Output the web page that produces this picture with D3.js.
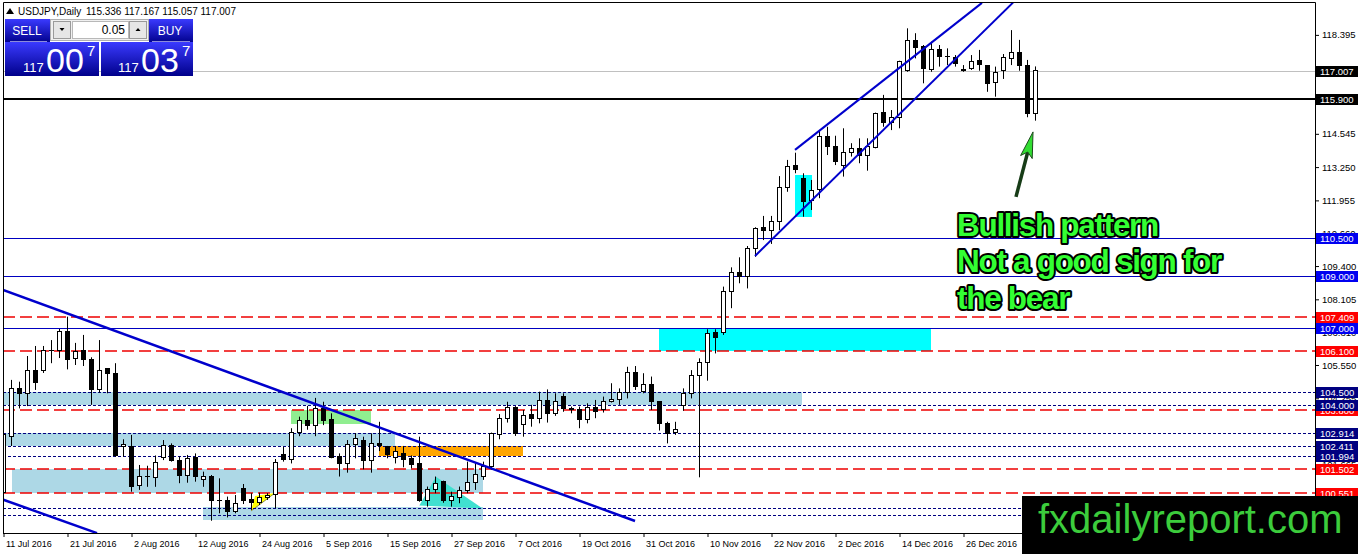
<!DOCTYPE html>
<html><head><meta charset="utf-8">
<script src="https://cdn.jsdelivr.net/npm/d3@7"></script>
<style>
html,body{margin:0;padding:0;background:#fff;overflow:hidden}
svg{display:block;font-family:"Liberation Sans",Arial,sans-serif}
</style></head><body>
<svg id="c" width="1358" height="554"></svg>
<script>
// ---------------- DATA ----------------
const symbol = "USDJPY,Daily";
const headerValues = [115.336, 117.167, 115.057, 117.007];
const dateLabels = ["11 Jul 2016","21 Jul 2016","2 Aug 2016","12 Aug 2016","24 Aug 2016","5 Sep 2016","15 Sep 2016","27 Sep 2016","7 Oct 2016","19 Oct 2016","31 Oct 2016","10 Nov 2016","22 Nov 2016","2 Dec 2016","14 Dec 2016","26 Dec 2016"];
const opens = [100.58,102.76,104.64,104.45,105.32,105.33,106.13,106.10,106.85,105.81,106.11,105.77,104.61,105.40,105.23,102.37,102.37,100.85,101.20,101.18,
101.96,102.41,101.85,101.24,101.94,101.11,101.23,100.28,100.26,99.84,100.75,100.30,100.19,100.40,100.53,102.07,101.88,102.93,103.38,103.19,
103.86,103.41,102.00,101.70,102.47,102.61,101.85,102.50,102.37,101.97,102.10,101.90,101.70,100.27,100.72,101.00,100.27,100.40,100.66,100.99,
101.20,101.59,102.83,103.48,103.90,103.24,103.61,103.48,104.16,103.67,104.34,103.86,103.83,103.41,103.90,103.83,104.12,104.21,104.47,105.25,
104.51,104.81,104.12,103.28,102.92,103.99,104.45,105.16,105.64,106.80,106.80,108.40,109.14,109.01,110.09,110.91,110.77,111.12,112.46,113.33,
112.81,111.94,112.36,114.46,114.04,113.31,113.81,113.98,113.70,114.01,115.38,114.99,115.19,117.00,118.16,117.94,117.06,117.83,117.56,117.51,
117.06,117.07,117.39,117.21,116.53,117.00,117.48,117.72,117.22,115.336];
const highs = [102.90,104.97,104.90,105.90,106.29,106.29,106.52,106.95,107.43,106.41,106.72,105.85,106.52,105.42,105.62,102.66,102.83,101.66,101.63,102.03,
102.63,102.50,101.98,102.05,102.11,101.40,101.27,101.14,100.43,100.49,100.92,100.56,100.58,100.56,101.89,102.37,103.09,103.54,103.96,104.27,
104.12,103.67,102.11,102.63,102.90,102.76,102.89,103.34,102.40,102.40,102.40,102.03,102.76,100.82,101.21,101.05,100.62,100.82,101.79,101.73,
101.79,102.92,103.64,104.12,103.95,103.80,104.00,104.51,104.60,104.45,104.45,103.93,103.93,104.06,104.19,104.32,104.84,104.64,105.48,105.51,
105.23,105.10,104.12,103.34,103.34,104.64,105.35,105.81,106.94,106.94,108.60,109.35,109.74,110.18,110.91,111.35,111.35,112.90,113.53,113.81,
113.01,112.75,114.69,114.82,114.47,114.76,114.18,114.37,114.37,115.37,116.06,115.47,117.39,118.65,118.46,118.00,118.13,118.00,117.87,117.61,
117.22,117.61,117.81,117.21,117.16,117.65,118.58,118.20,117.42,117.167];
const lows = [100.55,102.40,103.86,103.95,104.58,105.24,105.62,105.82,105.38,105.55,105.51,104.00,104.47,104.45,101.98,101.98,100.62,100.69,100.81,100.81,
101.85,101.79,100.95,100.97,101.01,100.81,99.49,99.78,99.62,99.78,100.14,99.91,100.10,100.30,99.98,101.79,101.72,102.78,103.03,102.78,
103.21,101.92,101.21,101.36,101.92,101.49,101.36,102.20,101.92,101.72,101.57,101.53,100.23,100.04,100.56,100.19,100.04,100.17,100.56,100.69,
101.08,101.47,102.66,103.31,102.79,102.76,103.15,103.28,103.31,103.57,103.73,103.67,103.09,103.28,103.48,103.70,104.09,104.00,104.25,104.58,
104.45,103.80,103.00,102.50,102.83,103.77,104.25,101.18,104.94,106.00,106.72,107.76,108.73,108.53,109.76,110.41,110.26,110.80,112.29,113.01,
111.32,111.58,112.04,113.72,113.33,112.88,113.66,113.40,113.11,113.98,114.82,114.69,114.76,116.96,117.48,116.51,116.96,117.16,117.22,117.16,
116.96,117.03,117.00,116.18,115.99,116.68,117.22,117.00,115.19,115.057];
const closes = [102.83,104.64,104.45,105.32,104.88,106.11,106.10,106.85,105.77,106.07,105.77,104.61,105.33,105.23,102.01,102.45,100.84,101.23,101.22,101.77,
102.41,101.85,101.24,101.92,101.20,101.20,100.27,100.27,99.84,100.17,100.27,100.19,100.40,100.48,101.76,101.88,102.93,103.38,103.19,103.86,
103.38,101.96,101.70,102.47,102.70,101.83,102.50,102.40,102.07,102.20,101.88,101.68,100.27,100.72,100.95,100.27,100.43,100.66,100.99,101.30,
101.59,102.89,103.48,103.90,102.89,103.57,103.48,104.16,103.67,104.12,103.86,103.80,103.41,103.90,103.73,104.12,104.21,104.47,105.25,104.71,
104.81,104.12,103.28,102.89,103.05,104.45,105.16,105.64,106.76,106.63,108.40,109.14,109.01,110.09,110.87,110.77,111.12,112.46,113.29,113.16,
111.90,112.33,114.46,114.04,113.46,113.81,113.98,113.70,114.04,115.34,114.99,115.19,117.35,118.16,117.91,117.09,117.83,117.55,117.54,117.29,
117.00,117.35,117.25,116.51,116.94,117.52,117.72,117.20,115.34,117.007];
const priceTicks = [118.395,114.545,113.250,111.955,110.660,109.400,108.105,106.810,105.550,104.255,102.960,101.665,100.370];
const bidPrice = 117.007;
const blackLevel = 115.900;
const blueLevels = [110.500, 109.000, 107.000];
const redLevels = [107.409, 106.100, 103.800, 101.502, 100.551];
const dottedLevels = [104.500, 104.000, 102.914, 102.411, 101.994];
const unlabeledDotted = [99.97, 99.71];
// zones: [fromBar, toBar, priceTop, priceBottom]
const lightBlueZones = [[-0.06,99.81,104.5,104.0],[-0.06,48.94,102.914,102.411],[1.06,59.94,101.502,100.551],[24.94,59.94,100.02,99.52]];
const cyanZones = [[81.94,115.94,107.0,106.1],[98.94,101.06,112.94,111.31]];
const greenZones = [[35.94,45.94,103.80,103.25]];
const orangeZones = [[46.94,64.94,102.40,102.01]];
const yellowTriangle = [[30.94,99.87],[31.44,100.45],[33.94,100.57]];
const tealTriangle = [[51.98,100.08],[54.06,101.20],[59.9,99.97]];
// trend lines: [bar1, price1, bar2, price2]
const downTrend = [-0.06,108.47,78.94,99.48];
const downTrendLower = [-0.5,100.36,11.69,99.01];
const channelUpper = [98.94,113.92,122.31,119.64];
const channelLower = [93.94,109.79,126.19,119.65];
const arrowFromTo = [126.56,112.09,128.69,114.62];
const noteLines = ["Bullish pattern","Not a good sign for","the bear"];
const watermark = "fxdailyreport.com";

// ---------------- SETUP ----------------
const W=1358,H=554,L=3,R=1315,T=2,B=533;
const svg=d3.select("#c");
const n=opens.length;
const x=d3.scaleLinear().domain([0,n-1]).range([3.5,1035.5]);
const y=d3.scaleLinear().domain([99.013,119.752]).range([B,0]);

const defs=svg.append("defs");
defs.append("clipPath").attr("id","plot").append("rect").attr("x",L).attr("y",T).attr("width",R-L).attr("height",B-T);
const gr=defs.append("linearGradient").attr("id","blueGrad").attr("x1",0).attr("y1",0).attr("x2",0).attr("y2",1);
gr.append("stop").attr("offset","0%").attr("stop-color","#3a3aff");
gr.append("stop").attr("offset","100%").attr("stop-color","#00008a");

const plot=svg.append("g").attr("clip-path","url(#plot)");

// zones
function zone(arr,color){
  plot.append("g").selectAll("rect").data(arr).join("rect")
   .attr("x",d=>x(d[0])).attr("width",d=>x(d[1])-x(d[0]))
   .attr("y",d=>y(d[2])).attr("height",d=>y(d[3])-y(d[2]))
   .attr("fill",color).attr("shape-rendering","crispEdges");
}
zone(lightBlueZones,"#add8e6");
zone(cyanZones,"#00ffff");
zone(greenZones,"#90ee90");
zone(orangeZones,"#ffa500");
const line=d3.line().x(d=>x(d[0])).y(d=>y(d[1]));
plot.append("path").attr("d",line(yellowTriangle)+"Z").attr("fill","#ffff00");
plot.append("path").attr("d",line([yellowTriangle[0],yellowTriangle[2]])).attr("stroke","#8a8a40").attr("stroke-width",1).attr("fill","none");
plot.append("path").attr("d",line(tealTriangle)+"Z").attr("fill","#40e0d0");

// horizontal levels
function hlines(arr,color,dash,width,off){
  plot.append("g").selectAll("line").data(arr).join("line")
   .attr("x1",L).attr("x2",R).attr("y1",d=>Math.round(y(d))+off).attr("y2",d=>Math.round(y(d))+off)
   .attr("stroke",color).attr("stroke-width",width).attr("stroke-dasharray",dash);
}
hlines(dottedLevels.concat(unlabeledDotted),"#000080","3,2",1,0.5);
hlines(redLevels,"#ee0000","12,5",1.6,0);
hlines(blueLevels,"#0000c0",null,1,0.5);
hlines([bidPrice],"#c0c0c0",null,1,0.5);
plot.append("line").attr("x1",L).attr("x2",R).attr("y1",y(blackLevel)).attr("y2",y(blackLevel)).attr("stroke","#000").attr("stroke-width",2);

// candles
const idx=d3.range(n);
const cg=plot.append("g");
cg.selectAll("line").data(idx).join("line")
 .attr("x1",i=>x(i)).attr("x2",i=>x(i)).attr("y1",i=>y(highs[i])).attr("y2",i=>y(lows[i]))
 .attr("stroke","#000").attr("stroke-width",1);
cg.selectAll("rect").data(idx).join("rect")
 .attr("x",i=>x(i)-2).attr("width",4)
 .attr("y",i=>y(Math.max(opens[i],closes[i])))
 .attr("height",i=>Math.max(0.5,Math.abs(y(opens[i])-y(closes[i]))))
 .attr("fill",i=>closes[i]>=opens[i]?"#fff":"#000")
 .attr("stroke","#000").attr("stroke-width",1).attr("shape-rendering","crispEdges");

// trend lines
function tl(p,w){plot.append("line").attr("x1",x(p[0])).attr("y1",y(p[1])).attr("x2",x(p[2])).attr("y2",y(p[3])).attr("stroke","#0000cc").attr("stroke-width",w);}
tl(downTrend,2.5);tl(downTrendLower,2.5);tl(channelUpper,2);tl(channelLower,2);

// frame
svg.append("path").attr("d",`M${L+0.5},${B+0.5}V${T+0.5}H${R+0.5}V${H}`).attr("fill","none").attr("stroke","#000").attr("stroke-width",1);
svg.append("line").attr("x1",L).attr("x2",R+1).attr("y1",B+0.5).attr("y2",B+0.5).attr("stroke","#000");

// x axis
const xa=svg.append("g").attr("transform",`translate(0,${B})`)
 .call(d3.axisBottom(x).tickValues(d3.range(0,121,8)).tickFormat((d,i)=>dateLabels[i]).tickSize(4));
xa.select(".domain").remove();
xa.selectAll("text").attr("text-anchor","start").attr("x",2).attr("y",8).attr("dy","0.71em").attr("font-size","9px").attr("fill","#000").attr("font-family","Liberation Sans,Arial,sans-serif");
xa.selectAll("line").attr("stroke","#000");

// y axis
const ya=svg.append("g").attr("transform",`translate(${R},0)`)
 .call(d3.axisRight(y).tickValues(priceTicks).tickFormat(d3.format(".3f")).tickSize(4));
ya.select(".domain").remove();
ya.selectAll("text").attr("x",7).attr("font-size","9.5px").attr("fill","#000").attr("font-family","Liberation Sans,Arial,sans-serif");
ya.selectAll("line").attr("stroke","#000");

// level labels
function labels(arr,bg){
  const g=svg.append("g");
  arr.forEach(p=>{
    const yy=Math.round(y(p));
    g.append("rect").attr("x",R+1).attr("y",yy-5).attr("width",W-R-1).attr("height",11).attr("fill",bg);
    g.append("text").attr("x",R+5).attr("y",yy+4).attr("fill","#fff").attr("font-size","9.5px").text(d3.format(".3f")(p));
  });
}
labels(redLevels,"#ff0000");
labels(blueLevels,"#0000f0");
labels(dottedLevels,"#000080");
labels([blackLevel,bidPrice],"#000");

// header
svg.append("path").attr("d","M6,14 L10,8 L14,14 Z").attr("fill","#000");
svg.append("text").attr("x",18).attr("y",15).attr("font-size","10px").text(symbol);
svg.append("text").attr("x",86).attr("y",15).attr("font-size","10px").text(headerValues.map(d3.format(".3f")).join(" "));

// trade panel
const tp=svg.append("g");
tp.append("rect").attr("x",5).attr("y",19).attr("width",45).attr("height",24).attr("fill","url(#blueGrad)");
tp.append("rect").attr("x",149).attr("y",19).attr("width",44).attr("height",24).attr("fill","url(#blueGrad)");
tp.append("rect").attr("x",5).attr("y",42).attr("width",94).attr("height",34).attr("fill","url(#blueGrad)");
tp.append("rect").attr("x",101).attr("y",42).attr("width",92).attr("height",34).attr("fill","url(#blueGrad)");
tp.append("line").attr("x1",10).attr("x2",47).attr("y1",41.5).attr("y2",41.5).attr("stroke","#8c8cd8");
tp.append("line").attr("x1",152).attr("x2",190).attr("y1",41.5).attr("y2",41.5).attr("stroke","#8c8cd8");
tp.append("rect").attr("x",50.5).attr("y",19.5).attr("width",98).attr("height",21).attr("fill","#f0f0f0").attr("stroke","#b0b0b0");
tp.append("rect").attr("x",53.5).attr("y",21.5).attr("width",17).attr("height",17).attr("fill","#e6e6e6").attr("stroke","#9a9a9a");
tp.append("rect").attr("x",72.5).attr("y",21.5).attr("width",56).attr("height",17).attr("fill","#fff").attr("stroke","#b8b8b8");
tp.append("rect").attr("x",129.5).attr("y",21.5).attr("width",17).attr("height",17).attr("fill","#e6e6e6").attr("stroke","#9a9a9a");
tp.append("path").attr("d","M59.5,28 L64.5,28 L62,31 Z").attr("fill","#000");
tp.append("path").attr("d","M135.5,31 L140.5,31 L138,28 Z").attr("fill","#000");
tp.append("text").attr("x",125).attr("y",34).attr("text-anchor","end").attr("font-size","12px").text("0.05");
tp.append("text").attr("x",27).attr("y",35).attr("text-anchor","middle").attr("font-size","12px").attr("fill","#fff").text("SELL");
tp.append("text").attr("x",170).attr("y",35).attr("text-anchor","middle").attr("font-size","12px").attr("fill","#fff").text("BUY");
[[23,46,87,"00"],[118,141,182,"03"]].forEach(p=>{
  tp.append("text").attr("x",p[0]).attr("y",72).attr("font-size","13px").attr("fill","#fff").text("117");
  tp.append("text").attr("x",p[1]).attr("y",72).attr("font-size","34px").attr("fill","#fff").text(p[3]);
  tp.append("text").attr("x",p[2]).attr("y",56).attr("font-size","15px").attr("fill","#fff").text("7");
});

// annotation text
const nt=svg.append("g").attr("font-weight","bold").attr("font-size","31.5px").attr("letter-spacing","-1.3px")
 .attr("fill","#33ff33").attr("stroke","#000").attr("stroke-width",4).attr("paint-order","stroke").attr("stroke-linejoin","round");
[236,272,309].forEach((yy,k)=>nt.append("text").attr("x",957).attr("y",yy).text(noteLines[k]));

// arrow
const ax1=x(arrowFromTo[0]),ay1=y(arrowFromTo[1]),ax2=x(arrowFromTo[2]),ay2=y(arrowFromTo[3]);
const dx=ax2-ax1,dy=ay2-ay1,len=Math.hypot(dx,dy),ux=dx/len,uy=dy/len,nx=-uy,ny=ux;
const hl=26,hw=6;
svg.append("line").attr("x1",ax1).attr("y1",ay1).attr("x2",ax2-ux*hl*0.8).attr("y2",ay2-uy*hl*0.8).attr("stroke","#173c17").attr("stroke-width",3.5);
svg.append("path").attr("d",`M${ax2},${ay2}L${ax2-ux*hl+nx*hw},${ay2-uy*hl+ny*hw}L${ax2-ux*hl*0.8},${ay2-uy*hl*0.8}L${ax2-ux*hl-nx*hw},${ay2-uy*hl-ny*hw}Z`)
 .attr("fill","#33dd33").attr("stroke","#1c4a1c").attr("stroke-width",1);

// watermark box
svg.append("rect").attr("x",1022).attr("y",496).attr("width",W-1022).attr("height",H-496).attr("fill","#000");
svg.append("text").attr("x",1038).attr("y",533).attr("font-size","40px").attr("fill","#3ccc3c").text(watermark);
</script>
</body></html>
